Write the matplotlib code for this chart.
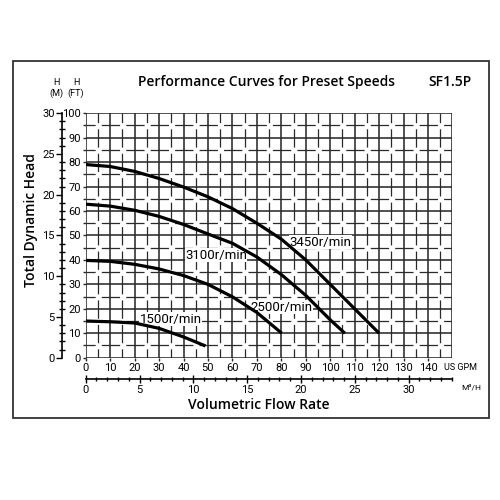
import matplotlib
matplotlib.use('Agg')
import matplotlib.pyplot as plt
from matplotlib.patches import Rectangle
import numpy as np

plt.rcParams['lines.scale_dashes'] = False

narrow = ['Roboto', 'DejaVu Sans']
titlefont = ['Open Sans', 'DejaVu Sans']

# flow in US GPM, head in ft
gpm_3450 = [0, 10, 20, 30, 40, 50, 60, 70, 80, 90, 100, 110, 120]
ft_3450 = [79, 78.2, 76.2, 73.3, 69.8, 65.8, 61, 55, 48.5, 40, 30, 20, 10]

gpm_3100 = [0, 10, 20, 30, 40, 50, 60, 70, 80, 90, 100, 106]
ft_3100 = [62.8, 62, 60.3, 57.8, 54.5, 50.6, 46.8, 41.2, 34, 25.5, 15.5, 10]

gpm_2500 = [0, 10, 20, 30, 40, 50, 60, 70, 80.2]
ft_2500 = [39.8, 39.4, 38.2, 36.3, 33.6, 30, 24.9, 18.5, 10]

gpm_1500 = [0, 10, 20, 30, 40, 49]
ft_1500 = [15, 14.7, 14.2, 12, 8.5, 4.8]

curves = [
    ('3450r/min', gpm_3450, ft_3450, (96, 47.3)),
    ('3100r/min', gpm_3100, ft_3100, (53.3, 42)),
    ('2500r/min', gpm_2500, ft_2500, (80.1, 20.7)),
    ('1500r/min', gpm_1500, ft_1500, (34.7, 15.8)),
]

gpm_ticks = list(range(0, 150, 10))
ft_ticks = list(range(0, 101, 10))
m_ticks = list(range(0, 31, 5))
m3h_ticks = list(range(0, 31, 5))

GPM_PER_M3H = 4.4029
M_PER_FT = 0.3   # the chart maps 30 m onto 100 ft

mydpi = 100
fig = plt.figure(figsize=(500 / mydpi, 500 / mydpi), dpi=mydpi)
ax = fig.add_axes([0.1714, 0.2846, 0.7335, 0.489])
ax.set_xlim(0, 150)
ax.set_ylim(0, 100)
for s in ax.spines.values():
    s.set_visible(False)

gridcol = '#2a2a2a'
# solid grid every 10, dashed half-way lines
ax.vlines(np.arange(0, 151, 10), 0, 100, colors=gridcol, lw=1.15, zorder=1)
ax.hlines(np.arange(0, 101, 10), 0, 150, colors=gridcol, lw=1.15, zorder=1)
cell_pt = 0.7335 * 500 / 15 * 72 / mydpi
on = cell_pt * 0.75
dash = (on / 2, (on, cell_pt - on))
ax.vlines(np.arange(5, 150, 10), 0, 100, colors=gridcol, lw=0.9, linestyles=[dash], zorder=1)
ax.hlines(np.arange(5, 100, 10), 0, 150, colors=gridcol, lw=0.9, linestyles=[dash], zorder=1)

for name, x, y, pos in curves:
    ax.plot(x, y, color='black', lw=2.3, solid_capstyle='butt', zorder=3)
    ax.text(pos[0], pos[1], name, ha='center', va='center', fontsize=9.5,
            family=narrow, zorder=2,
            bbox=dict(facecolor='white', edgecolor='none', pad=0.2))

ax.set_xticks(gpm_ticks)
ax.set_yticks(ft_ticks)
ax.set_yticks(range(5, 100, 10), minor=True)
ax.tick_params(axis='both', which='major', length=2, width=1, color=gridcol,
               labelsize=8, pad=1.5)
ax.tick_params(axis='y', which='minor', length=2, width=1, color=gridcol)
for lab in ax.get_xticklabels() + ax.get_yticklabels():
    lab.set_family(narrow)

# metre head axis
axm = ax.secondary_yaxis(-0.0654, functions=(lambda y: y * M_PER_FT, lambda m: m / M_PER_FT))
axm.set_yticks(m_ticks)
axm.set_yticks(range(0, 31), minor=True)
axm.spines['left'].set_linewidth(1.2)
axm.tick_params(which='major', direction='out', length=4, width=1, labelsize=8, pad=1)
axm.tick_params(which='minor', direction='inout', length=4, width=1)
for lab in axm.get_yticklabels():
    lab.set_family(narrow)

# m3/h flow axis
axq = ax.secondary_xaxis(-0.089, functions=(lambda g: g / GPM_PER_M3H, lambda q: q * GPM_PER_M3H))
axq.set_xticks(m3h_ticks)
axq.set_xticks(range(0, 35), minor=True)
axq.spines['bottom'].set_linewidth(1.2)
axq.tick_params(which='major', direction='inout', length=6, width=1, labelsize=8, pad=1)
axq.tick_params(which='minor', direction='inout', length=3, width=1)
for lab in axq.get_xticklabels():
    lab.set_family(narrow)

def fx(px):
    return px / 500

def fy(py):
    return 1 - py / 500

fig.text(fx(266), fy(82), 'Performance Curves for Preset Speeds', ha='center', va='center',
         fontsize=10, weight='semibold', family=titlefont)
fig.text(fx(450), fy(82), 'SF1.5P', ha='center', va='center',
         fontsize=10, weight='semibold', family=titlefont)
fig.text(fx(259), fy(405), 'Volumetric Flow Rate', ha='center', va='center',
         fontsize=10, weight='semibold', family=titlefont)
fig.text(fx(31), fy(220), 'Total Dynamic Head', ha='center', va='center', rotation=90,
         fontsize=10, weight='semibold', family=titlefont)
fig.text(fx(56), fy(88), 'H\n(M)', ha='center', va='center', fontsize=6.5,
         family=narrow, linespacing=1.3)
fig.text(fx(76), fy(88), 'H\n(FT)', ha='center', va='center', fontsize=6.5,
         family=narrow, linespacing=1.3)
fig.text(fx(460), fy(367), 'US GPM', ha='center', va='center', fontsize=6.5, family=narrow)
fig.text(fx(471), fy(387), 'M³/H', ha='center', va='center', fontsize=6, family=narrow)

fig.add_artist(Rectangle((fx(12.7), fy(418)), (489 - 12.7) / 500, (418 - 60.7) / 500,
                         transform=fig.transFigure, fill=False, lw=1.3, ec='#333333'))

plt.savefig('out.png', dpi=mydpi, facecolor='white')
